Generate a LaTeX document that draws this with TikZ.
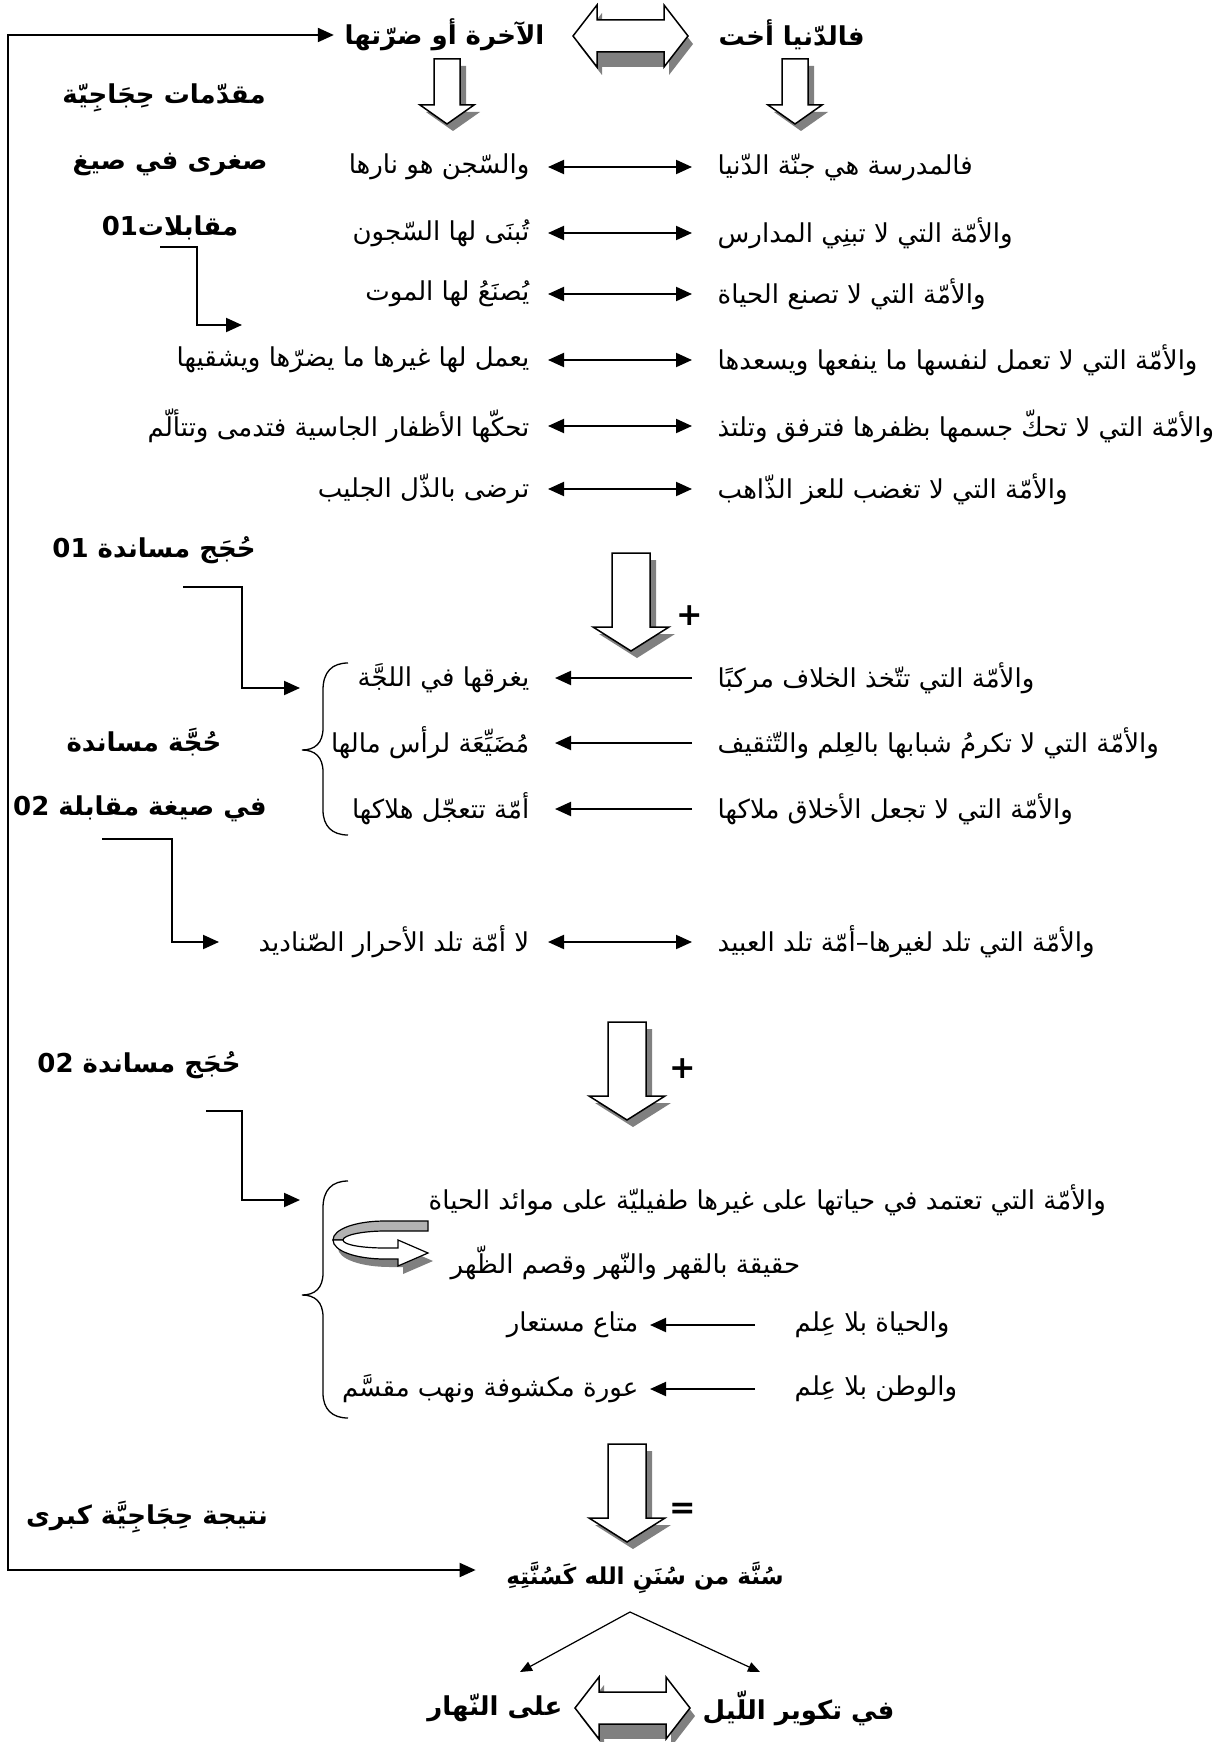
\documentclass[tikz,border=0pt]{standalone}
\usepackage{fontspec}
\usetikzlibrary{arrows.meta}
\newfontfamily\arfont[Script=Arabic]{DejaVu Sans}
\TeXXeTstate=1
% hollow block arrow pointing down: cx, top, half shaft, half head, head y, tip y
\newcommand\blockdown[6]{%
  \fill[black!50] ({#1-#3+6},{#2+7}) -- ({#1+#3+6},{#2+7}) -- ({#1+#3+6},{#5+7}) -- ({#1+#4+6},{#5+7}) -- ({#1+6},{#6+7}) -- ({#1-#4+6},{#5+7}) -- ({#1-#3+6},{#5+7}) -- cycle;
  \draw[fill=white,line width=0.15mm,line join=miter] ({#1-#3},#2) -- ({#1+#3},#2) -- ({#1+#3},#5) -- ({#1+#4},#5) -- (#1,#6) -- ({#1-#4},#5) -- ({#1-#3},#5) -- cycle;}
% hollow double block arrow: xl, xr, yc, half head, half shaft, head length
\newcommand\blockdbl[6]{%
  \fill[black!50] ({#1+5},{#3+8}) -- ({#1+#6+5},{#3-#4+8}) -- ({#1+#6+5},{#3-#5+8}) -- ({#2-#6+5},{#3-#5+8}) -- ({#2-#6+5},{#3-#4+8}) -- ({#2+5},{#3+8}) -- ({#2-#6+5},{#3+#4+8}) -- ({#2-#6+5},{#3+#5+8}) -- ({#1+#6+5},{#3+#5+8}) -- ({#1+#6+5},{#3+#4+8}) -- cycle;
  \fill[black!50] ({#1+#6},{#3+#5}) rectangle ({#2-#6},{#3+#4});
  \draw[fill=white,line width=0.15mm,line join=miter] (#1,#3) -- ({#1+#6},{#3-#4}) -- ({#1+#6},{#3-#5}) -- ({#2-#6},{#3-#5}) -- ({#2-#6},{#3-#4}) -- (#2,#3) -- ({#2-#6},{#3+#4}) -- ({#2-#6},{#3+#5}) -- ({#1+#6},{#3+#5}) -- ({#1+#6},{#3+#4}) -- cycle;}
\tikzset{
  body/.style={font=\arfont\fontsize{7.4}{8.5}\selectfont, inner sep=0pt},
  head/.style={font=\arfont\bfseries\fontsize{7.4}{8.5}\selectfont, inner sep=0pt},
  headsm/.style={font=\arfont\bfseries\fontsize{6.6}{7.5}\selectfont, inner sep=0pt},
  sign/.style={font=\arfont\bfseries\fontsize{9}{9}\selectfont, inner sep=0pt},
  conn/.style={line width=0.2mm},
  arrR/.style={conn, -{Triangle[length=1.6mm,width=1.4mm]}},
  dblarr/.style={conn, {Triangle[length=1.6mm,width=1.4mm]}-{Triangle[length=1.6mm,width=1.4mm]}},
  thinarr/.style={line width=0.12mm, -{Triangle[length=1.2mm,width=1.0mm]}},
  bracepath/.style={line width=0.13mm},
}
\begin{document}
\begin{tikzpicture}[x=0.1mm,y=-0.1mm]
\useasboundingbox (0,0) rectangle (1221,1742);
\fill[white] (0,0) rectangle (1221,1742);

% ---------- top ----------
\node[head, anchor=east] (topL) at (545,35) {\beginR الآخرة أو ضرّتها\endR};
\node[head, anchor=west] (topR) at (718,35) {\beginR فالدّنيا أخت\endR};
\blockdbl{573}{688}{36}{31}{16}{24}
\blockdown{447}{59}{13}{27}{105}{124}
\blockdown{795}{59}{13}{27}{105}{124}

\coordinate (LT) at (8,35);
\coordinate (LB) at (8,1570);

% ---------- headings ----------
\node[head] (h1) at (164,98) {\beginR مقدّمات حِجَاجِيّة\endR};
\node[head] (h2) at (170,165) {\beginR صغرى في صيغ\endR};
\node[head] (h3) at (170,228) {\beginR مقابلات\beginL 01\endL\endR};
\node[head] (h4) at (154,550) {\beginR حُجَج مساندة \beginL 01\endL\endR};
\node[head] (h5) at (144,742) {\beginR حُجَّة مساندة\endR};
\node[head] (h6) at (140,809) {\beginR في صيغة مقابلة \beginL 02\endL\endR};
\node[head] (h7) at (139,1065) {\beginR حُجَج مساندة \beginL 02\endL\endR};
\node[head] (h8) at (147,1517) {\beginR نتيجة حِجَاجِيَّة كبرى\endR};

% ---------- section 1 ----------
\node[body, anchor=west] (r1R) at (717,167) {\beginR فالمدرسة هي جنّة الدّنيا\endR};
\node[body, anchor=east] (r1L) at (530,167) {\beginR والسّجن هو نارها\endR};
\node[body, anchor=west] (r2R) at (717,233) {\beginR والأمّة التي لا تبنِي المدارس\endR};
\node[body, anchor=east] (r2L) at (530,233) {\beginR تُبنَى لها السّجون\endR};
\node[body, anchor=west] (r3R) at (717,294) {\beginR والأمّة التي لا تصنع الحياة\endR};
\node[body, anchor=east] (r3L) at (530,294) {\beginR يُصنَعُ لها الموت\endR};
\node[body, anchor=west] (r4R) at (717,360) {\beginR والأمّة التي لا تعمل لنفسها ما ينفعها ويسعدها\endR};
\node[body, anchor=east] (r4L) at (530,360) {\beginR يعمل لها غيرها ما يضرّها ويشقيها\endR};
\node[body, anchor=west] (r5R) at (717,426) {\beginR والأمّة التي لا تحكّ جسمها بظفرها فترفق وتلتذ\endR};
\node[body, anchor=east] (r5L) at (530,426) {\beginR تحكّها الأظفار الجاسية فتدمى وتتألّم\endR};
\node[body, anchor=west] (r6R) at (717,489) {\beginR والأمّة التي لا تغضب للعز الذّاهب\endR};
\node[body, anchor=east] (r6L) at (530,489) {\beginR ترضى بالذّل الجليب\endR};
\foreach \r in {1,...,6}{
  \draw[dblarr] ([xshift=1.8mm]r\r L.east) -- ([xshift=-2.5mm]r\r R.west);
}

% connector from h3
\coordinate (c1a) at (160,247);
\coordinate (c1b) at (197,247);
\coordinate (c1c) at (197,325);
\coordinate (c1d) at (242,325);
\draw[arrR] (c1a) -- (c1b) -- (c1c) -- (c1d);

% ---------- section 2 ----------
\blockdown{631}{553}{19}{38}{627}{651}
\node[sign] (plus1) at (690,616) {+};

\coordinate (c2a) at (183,587);
\coordinate (c2b) at (242,587);
\coordinate (c2c) at (242,688);
\coordinate (c2d) at (300,688);
\draw[arrR] (c2a) -- (c2b) -- (c2c) -- (c2d);

\draw[bracepath] (348,663) .. controls (332,663) and (323,672) .. (323,690) -- (323,728) .. controls (323,743) and (315,750) .. (302,750) .. controls (315,750) and (323,757) .. (323,772) -- (323,810) .. controls (323,826) and (332,835) .. (348,835);

\node[body, anchor=west] (raR) at (717,678) {\beginR والأمّة التي تتّخذ الخلاف مركبًا\endR};
\node[body, anchor=east] (raL) at (530,678) {\beginR يغرقها في اللجَّة\endR};
\node[body, anchor=west] (rbR) at (717,743) {\beginR والأمّة التي لا تكرمُ شبابها بالعِلم والتّثقيف\endR};
\node[body, anchor=east] (rbL) at (530,743) {\beginR مُضَيِّعَة لرأس مالها\endR};
\node[body, anchor=west] (rcR) at (717,809) {\beginR والأمّة التي لا تجعل الأخلاق ملاكها\endR};
\node[body, anchor=east] (rcL) at (530,809) {\beginR أمّة تتعجّل هلاكها\endR};
\foreach \r in {a,b,c}{
  \draw[arrR] ([xshift=-2.5mm]r\r R.west) -- ([xshift=2.5mm]r\r L.east);
}

\coordinate (c3a) at (102,839);
\coordinate (c3b) at (172,839);
\coordinate (c3c) at (172,942);
\coordinate (c3d) at (219,942);
\draw[arrR] (c3a) -- (c3b) -- (c3c) -- (c3d);

\node[body, anchor=west] (rdR) at (717,942) {\beginR والأمّة التي تلد لغيرها–أمّة تلد العبيد\endR};
\node[body, anchor=east] (rdL) at (530,942) {\beginR لا أمّة تلد الأحرار الصّناديد\endR};
\draw[dblarr] ([xshift=1.8mm]rdL.east) -- ([xshift=-2.5mm]rdR.west);

% ---------- section 3 ----------
\blockdown{627}{1022}{19}{38}{1096}{1120}
\node[sign] (plus2) at (683,1069) {+};

\coordinate (c4a) at (206,1111);
\coordinate (c4b) at (242,1111);
\coordinate (c4c) at (242,1200);
\coordinate (c4d) at (300,1200);
\draw[arrR] (c4a) -- (c4b) -- (c4c) -- (c4d);

\draw[bracepath] (348,1181) .. controls (332,1181) and (323,1190) .. (323,1208) -- (323,1273) .. controls (323,1288) and (315,1295) .. (302,1295) .. controls (315,1295) and (323,1302) .. (323,1317) -- (323,1393) .. controls (323,1409) and (332,1418) .. (348,1418);

\node[body, anchor=west] (reR) at (428,1200) {\beginR والأمّة التي تعتمد في حياتها على غيرها طفيليّة على موائد الحياة\endR};
% curved arrow
\begin{scope}[shift={(0,7)}]
\fill[black!50, shift={(5,8)}] (333,1233) .. controls (333,1244) and (356,1252) .. (385,1252) -- (398,1252) -- (398,1259) -- (428,1246) -- (398,1233) -- (398,1241) -- (385,1241) .. controls (363,1241) and (343,1238) .. (343,1233) -- cycle;
\draw[fill=black!30, line width=0.12mm] (428,1214) -- (385,1214) .. controls (356,1214) and (333,1222) .. (333,1233) -- (343,1233) .. controls (343,1228) and (363,1224) .. (385,1224) -- (428,1224) -- cycle;
\draw[fill=white, line width=0.12mm, line join=miter] (333,1233) .. controls (333,1244) and (356,1252) .. (385,1252) -- (398,1252) -- (398,1259) -- (428,1246) -- (398,1233) -- (398,1241) -- (385,1241) .. controls (363,1241) and (343,1238) .. (343,1233) -- cycle;
\end{scope}
\node[body, anchor=west] (reR2) at (450,1263) {\beginR حقيقة بالقهر والنّهر وقصم الظّهر\endR};

\node[body, anchor=west] (rfR) at (794,1325) {\beginR والحياة بلا عِلم\endR};
\node[body, anchor=east] (rfL) at (639,1325) {\beginR متاع مستعار\endR};
\node[body, anchor=west] (rgR) at (794,1389) {\beginR والوطن بلا عِلم\endR};
\node[body, anchor=east] (rgL) at (639,1389) {\beginR عورة مكشوفة ونهب مقسَّم\endR};
\draw[arrR] ([xshift=-3.9mm]rfR.west) -- ([xshift=1.1mm]rfL.east);
\draw[arrR] ([xshift=-3.9mm]rgR.west) -- ([xshift=1.1mm]rgL.east);

% ---------- section 4 ----------
\blockdown{627}{1444}{19}{38}{1518}{1542}
\node[sign] (eq) at (683,1511) {=};

\node[headsm] (sunna) at (645,1578) {\beginR سُنَّة من سُنَنِ الله كَسُنَّتِهِ\endR};
\draw[arrR] (LB) -- (LT) -- ([xshift=-1mm]topL.west |- LT);
\draw[arrR] (LT) -- (LB) -- ([xshift=-3mm]sunna.west |- LB);

\coordinate (apex) at (630,1612);
\coordinate (tipL) at (520,1672);
\coordinate (tipR) at (760,1672);
\draw[thinarr] (apex) -- (tipL);
\draw[thinarr] (apex) -- (tipR);

\blockdbl{575}{690}{1708}{31}{16}{24}
\node[head, anchor=west] (layl) at (702,1708) {\beginR في تكوير اللّيل\endR};
\node[head, anchor=east] (nahar) at (563,1708) {\beginR على النّهار\endR};
\end{tikzpicture}
\end{document}
